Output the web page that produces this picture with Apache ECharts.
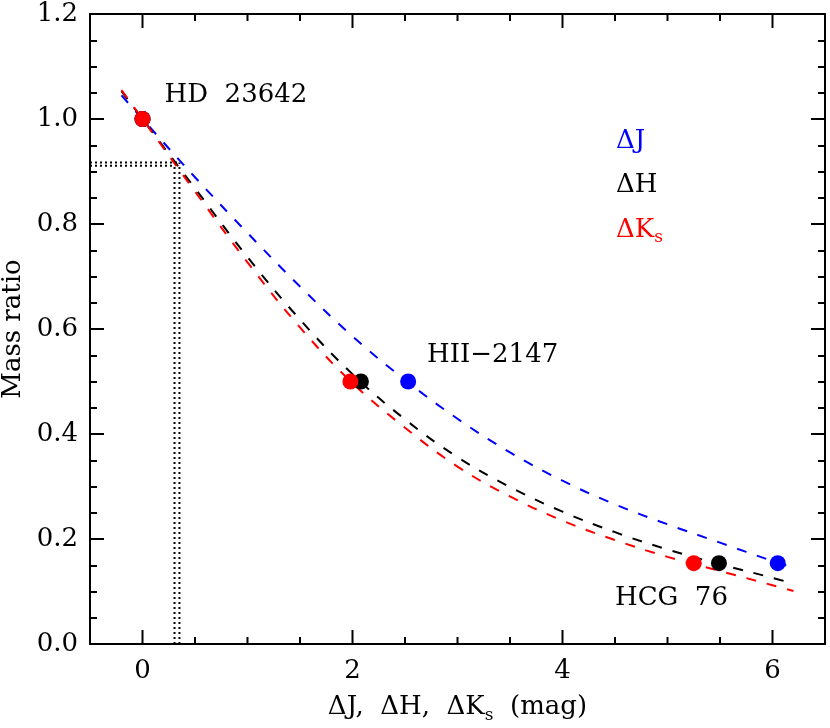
<!DOCTYPE html>
<html>
<head>
<meta charset="utf-8">
<script src="https://cdn.jsdelivr.net/npm/echarts@6/dist/echarts.min.js"></script>
<style>
    html, body { margin: 0; padding: 0; background: #fff; }
    #chart01 { width: 830px; height: 728px; }
</style>
</head>
<body>
<div id="chart01"></div>
<script>
// model curves
var xGrid = [-0.2, 0, 0.5, 1.0, 1.5, 2.0, 2.5, 3.0, 3.5, 4.0, 4.5, 5.0, 5.5, 6.0, 6.2];
var qJ = [1.045, 1.000, 0.889, 0.783, 0.681, 0.586, 0.503, 0.429, 0.365, 0.311, 0.266, 0.228, 0.193, 0.158, 0.145];
var qH = [1.053, 1.000, 0.868, 0.737, 0.618, 0.514, 0.428, 0.356, 0.299, 0.252, 0.213, 0.180, 0.152, 0.126, 0.115];
var qK = [1.055, 1.000, 0.862, 0.727, 0.603, 0.497, 0.412, 0.338, 0.281, 0.235, 0.198, 0.166, 0.139, 0.112, 0.101];

// binaries: HD 23642, HII-2147, HCG 76
var starNames = ['HD  23642', 'HII\u22122147', 'HCG  76'];
var ptJx = [0, 2.53, 6.05];
var ptHx = [0, 2.08, 5.49];
var ptKx = [0, 1.98, 5.25];
var ptQ = [1.0, 0.5, 0.154];

// dotted read-off lines
var cutX = [0.305, 0.352];
var cutQ = [0.917, 0.911];

// tick positions
var xMajor = [0, 2, 4, 6];
var xMinor = [0.5, 1, 1.5, 2.5, 3, 3.5, 4.5, 5, 5.5, 6.5];
var yMajor = [0, 0.2, 0.4, 0.6, 0.8, 1.0, 1.2];

var FONT = 'DejaVu Serif';
var FS = 26;
var BLUE = '#0000ff', BLACK = '#000000', RED = '#ff0000';

var chart01 = echarts.init(document.getElementById('chart01'));

function pairs(xs, ys) {
    var out = [];
    for (var i = 0; i < xs.length; i++) {
        out.push([xs[i], ys[i]]);
    }
    return out;
}

function xAxisDef(pos, labels) {
    return {
        type: 'value', position: pos, min: -0.5, max: 6.5,
        axisLine: {show: true, onZero: false, lineStyle: {color: '#000', width: 2}},
        axisTick: {show: false},
        axisLabel: {
            show: labels, customValues: xMajor, margin: 14, color: '#000', fontFamily: FONT, fontSize: FS,
            formatter: function (v) { return xMajor.indexOf(v) >= 0 ? String(v) : ''; }
        },
        splitLine: {show: false}
    };
}

function yAxisDef(pos, labels) {
    return {
        type: 'value', position: pos, min: 0, max: 1.2, interval: 0.2,
        axisLine: {show: true, onZero: false, lineStyle: {color: '#000', width: 2}},
        axisTick: {show: true, inside: true, length: 14, lineStyle: {color: '#000', width: 2}},
        minorTick: {show: true, splitNumber: 4, length: 7, lineStyle: {color: '#000', width: 2}},
        axisLabel: {
            show: labels, margin: 12, color: '#000', fontFamily: FONT, fontSize: FS,
            formatter: function (v) { return v.toFixed(1); }
        },
        splitLine: {show: false}
    };
}

function curve(ys, color) {
    return {
        type: 'line', xAxisIndex: 0, yAxisIndex: 0,
        data: pairs(xGrid, ys), smooth: 0.4, showSymbol: false, silent: true,
        lineStyle: {color: color, width: 2, type: [10, 11]}
    };
}

function dots(xs, color) {
    return {
        type: 'scatter', xAxisIndex: 0, yAxisIndex: 0,
        data: pairs(xs, ptQ), symbol: 'circle', symbolSize: 16,
        itemStyle: {color: color, opacity: 1}, z: 5
    };
}

function textMarks(items, color) {
    return {
        type: 'scatter', xAxisIndex: 0, yAxisIndex: 0,
        data: items, symbolSize: 0, silent: true, z: 6,
        itemStyle: {color: color, opacity: 1},
        label: {
            show: true, position: 'right', distance: 0,
            formatter: function (p) { return p.value[2]; },
            color: color, opacity: 1, fontFamily: FONT, fontSize: FS,
            rich: {
                s: {fontFamily: FONT, fontSize: 17, color: color, padding: [16, 0, 0, 0]}
            }
        }
    };
}

// x ticks (bottom and top edges) drawn through the axis scale
function xTicks(vals, len) {
    return {
        type: 'custom', xAxisIndex: 0, yAxisIndex: 0, clip: false, z: 4,
        data: pairs(vals, vals.map(function () { return 0; })),
        renderItem: function (params, api) {
            var b = api.coord([api.value(0), 0]);
            var t = api.coord([api.value(0), 1.2]);
            return {
                type: 'group',
                children: [
                    {type: 'line', shape: {x1: b[0], y1: b[1], x2: b[0], y2: b[1] - len}, style: {stroke: '#000', lineWidth: 2}},
                    {type: 'line', shape: {x1: t[0], y1: t[1], x2: t[0], y2: t[1] + len}, style: {stroke: '#000', lineWidth: 2}}
                ]
            };
        }
    };
}

var dotLine = {color: '#000', width: 2, type: [2, 3]};

var option = {
    animation: false,
    backgroundColor: '#fff',
    grid: {left: 90, right: 5, top: 14, bottom: 84, outerBoundsMode: 'none'},
    xAxis: [
        xAxisDef('bottom', true),
        xAxisDef('top', false)
    ],
    yAxis: [
        yAxisDef('left', true),
        yAxisDef('right', false)
    ],
    series: [
        xTicks(xMajor, 14),
        xTicks(xMinor, 7),
        curve(qJ, BLUE),
        curve(qH, BLACK),
        curve(qK, RED),
        {type: 'line', data: [[-0.5, cutQ[0]], [cutX[1], cutQ[0]]], showSymbol: false, lineStyle: dotLine},
        {type: 'line', data: [[-0.5, cutQ[1]], [cutX[0], cutQ[1]]], showSymbol: false, lineStyle: dotLine},
        {type: 'line', data: [[cutX[0], 0], [cutX[0], cutQ[1]]], showSymbol: false, lineStyle: dotLine},
        {type: 'line', data: [[cutX[1], 0], [cutX[1], cutQ[0]]], showSymbol: false, lineStyle: dotLine},
        dots(ptJx, BLUE),
        dots(ptHx, BLACK),
        dots(ptKx, RED),
        textMarks([
            [0.21, 1.046, starNames[0]],
            [2.71, 0.550, starNames[1]],
            [4.50, 0.088, starNames[2]]
        ], BLACK),
        textMarks([[4.51, 0.958, '\u0394J']], BLUE),
        textMarks([[4.51, 0.874, '\u0394H']], BLACK),
        textMarks([[4.51, 0.789, '\u0394K{s|s}']], RED)
    ]
};

// axis titles
option.xAxis[0].name = '\u0394J,  \u0394H,  \u0394K{s|s}  (mag)';
option.xAxis[0].nameLocation = 'middle';
option.xAxis[0].nameGap = 47;
option.xAxis[0].nameTextStyle = {
    color: '#000', fontFamily: FONT, fontSize: FS,
    rich: {s: {fontFamily: FONT, fontSize: 17, color: '#000', padding: [16, 0, 0, 0]}}
};
option.yAxis[0].name = 'Mass ratio';
option.yAxis[0].nameLocation = 'middle';
option.yAxis[0].nameGap = 58;
option.yAxis[0].nameTextStyle = {color: '#000', fontFamily: FONT, fontSize: FS};

chart01.setOption(option, true);
</script>
</body>
</html>
